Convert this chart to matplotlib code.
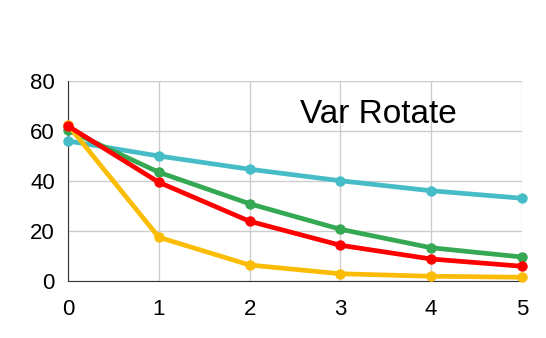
import matplotlib.pyplot as plt

x = [0, 1, 2, 3, 4, 5]
cyan_vals = [56.0, 50.0, 44.7, 40.1, 36.1, 33.1]
green_vals = [60.4, 43.5, 30.9, 20.7, 13.3, 9.6]
red_vals = [62.0, 39.5, 23.9, 14.3, 8.8, 5.9]
yellow_vals = [62.4, 17.5, 6.4, 2.9, 1.9, 1.5]
y_ticks = [0, 20, 40, 60, 80]
title = "Var Rotate"


def main():
    plt.rcParams['font.family'] = ['Liberation Sans', 'DejaVu Sans']
    fig = plt.figure(figsize=(5.46, 3.38), dpi=100)
    ax = fig.add_axes([0.1245, 0.1686, 0.8315, 0.5918])

    series = [
        (cyan_vals, '#46BDC6'),
        (green_vals, '#34A853'),
        (yellow_vals, '#FBBC04'),
        (red_vals, '#FF0000'),
    ]
    for vals, color in series:
        ax.plot(x, vals, color=color, lw=3.4, marker='o', markersize=6.5,
                clip_on=False, zorder=3)

    ax.set_xlim(0, 5)
    ax.set_ylim(0, 80)
    ax.set_xticks(x)
    ax.set_yticks(y_ticks)
    ax.tick_params(labelsize=16, length=0)
    ax.tick_params(axis='y', pad=9.5)
    ax.tick_params(axis='x', pad=13)
    ax.grid(True, color='#cccccc', lw=1)
    for side in ['top', 'right']:
        ax.spines[side].set_visible(False)
    for side in ['left', 'bottom']:
        ax.spines[side].set_color('#333333')
        ax.spines[side].set_zorder(2.5)

    ax.text(0.511, 0.79, title, transform=ax.transAxes, fontsize=24,
            ha='left', va='baseline')

    fig.savefig('out.png', dpi=100)


if __name__ == "__main__":
    main()
